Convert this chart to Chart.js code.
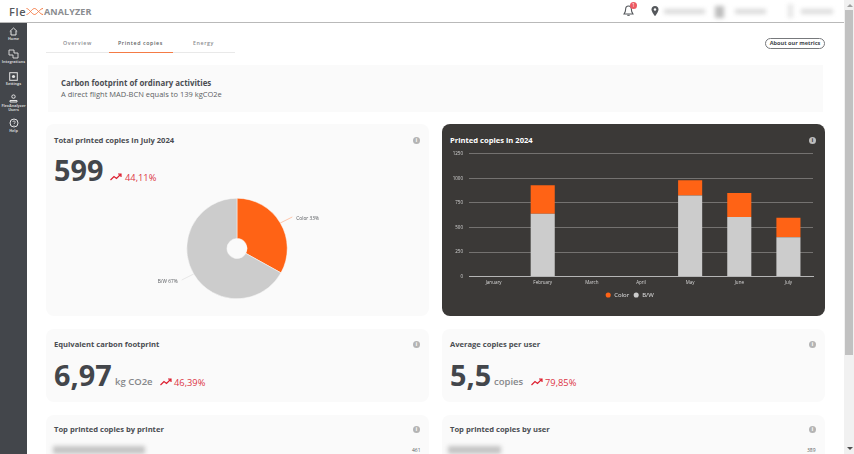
<!DOCTYPE html>
<html>
<head>
<meta charset="utf-8">
<title>FlexAnalyzer</title>
<script src="https://cdn.jsdelivr.net/npm/chart.js@4"></script>
<style>
html, body { margin: 0; padding: 0; width: 854px; height: 454px; overflow: hidden; background: #fff; font-family: "Open Sans", sans-serif; color: #43464b; }
.abs, .card, .t { position: absolute; }
.t { white-space: nowrap; line-height: 1; }
.card { background: #fafafa; border-radius: 8px; }
.title { font-weight: 700; font-size: 7.6px; color: #4a4d52; }
.big { font-weight: 700; font-size: 28.8px; color: #43464b; }
.unit { font-weight: 600; font-size: 9.5px; color: #85878a; }
.pct { font-size: 9.3px; color: #dc3545; }
.tab { font-size: 5.3px; font-weight: 600; letter-spacing: .6px; color: #8a8c8f; }
.info { position: absolute; width: 7px; height: 7px; border-radius: 50%; background: #b4b4b4; color: #fafafa; font-size: 6px; font-weight: 700; line-height: 7px; text-align: center; }
.blur { position: absolute; background: #b8b8b8; filter: blur(2px); }
.side { position: absolute; left: 0; width: 27px; text-align: center; color: #cfd0d2; font-size: 3.8px; font-weight: 700; line-height: 4.4px; }
.side svg { display: block; margin: 0 auto 1px; }
canvas { position: absolute; }
</style>
</head>
<body>

<!-- top bar -->
<div class="abs" style="left:0;top:0;width:844px;height:22px;background:#fff;border-bottom:1px solid #b9b9b9"></div>
<div class="t" style="left:9px;top:6px;font-size:11px;font-weight:600;color:#55585c;letter-spacing:.6px">Fle</div>
<svg class="abs" style="left:26px;top:8px" width="18" height="7" viewBox="0 0 18 7"><path d="M.5 .5C3 .5 6 6.5 8.5 6.5M8.5 .5C6 .5 3 6.5 .5 6.5M8.5 .5C11 .5 14 6.5 17 6.5M17 .5C14 .5 11 6.5 8.5 6.5" fill="none" stroke="#f47b45" stroke-width="1"/></svg>
<div class="t" style="left:44px;top:7px;font-size:9px;font-weight:700;color:#8a8c8f;letter-spacing:.1px">ANALYZER</div>
<svg class="abs" style="left:623px;top:5px" width="11" height="12" viewBox="0 0 11 12"><path d="M5.5 1C3.4 1 2.6 2.6 2.6 4.5C2.6 7 1.5 8 1 9H10C9.5 8 8.4 7 8.4 4.5C8.4 2.6 7.6 1 5.5 1Z" fill="none" stroke="#55585c" stroke-width="1.1"/><path d="M4.3 10.3H6.7" stroke="#55585c" stroke-width="1.1"/></svg>
<div class="abs" style="left:630px;top:2px;width:7px;height:7px;border-radius:50%;background:#ec5a63;color:#fff;font-size:5px;line-height:7px;text-align:center">1</div>
<svg class="abs" style="left:651px;top:6px" width="8" height="10" viewBox="0 0 8 10"><path d="M4 0C1.8 0 .5 1.6.5 3.4C.5 5.8 4 10 4 10S7.5 5.8 7.5 3.4C7.5 1.6 6.2 0 4 0Z" fill="#55585c"/><circle cx="4" cy="3.5" r="1.2" fill="#fff"/></svg>
<div class="blur" style="left:664px;top:9px;width:41px;height:5px;background:#dadada"></div>
<div class="blur" style="left:715px;top:6px;width:9px;height:12px;background:#bdbdbd"></div>
<div class="blur" style="left:735px;top:9px;width:31px;height:5px;background:#dadada"></div>
<div class="blur" style="left:788px;top:4px;width:5px;height:14px;background:#e6e6e6"></div>
<div class="blur" style="left:801px;top:9px;width:32px;height:5px;background:#dcdcdc"></div>

<!-- scrollbar -->
<div class="abs" style="left:844px;top:0;width:10px;height:454px;background:#f1f1f1"></div>
<div class="abs" style="left:845px;top:10px;width:8px;height:345px;background:#c1c1c1"></div>
<div class="abs" style="left:847px;top:4px;width:0;height:0;border:3px solid transparent;border-top:0;border-bottom:3px solid #a0a0a0"></div>
<div class="abs" style="left:847px;top:447px;width:0;height:0;border:3px solid transparent;border-bottom:0;border-top:3px solid #505050"></div>

<!-- sidebar -->
<div class="abs" style="left:0;top:23px;width:27px;height:431px;background:#43464b"></div>
<div class="side" style="top:27px"><svg width="9" height="9" viewBox="0 0 9 9"><path d="M.8 4.5L4.5 1L8.2 4.5M2 4V8H7V4" fill="none" stroke="#e4e4e4"/></svg>Home</div>
<div class="side" style="top:48px"><svg width="11" height="11" viewBox="0 0 11 11"><path d="M1 2H6V5H10V10H5V7H1Z" fill="none" stroke="#e4e4e4" stroke-width=".9"/></svg>Integrations</div>
<div class="side" style="top:72px"><svg width="9" height="9" viewBox="0 0 9 9"><rect x=".7" y=".7" width="7.6" height="7.6" fill="none" stroke="#e4e4e4"/><circle cx="4.5" cy="4.5" r="1.6" fill="#e4e4e4"/></svg>Settings</div>
<div class="side" style="top:94px"><svg width="9" height="9" viewBox="0 0 9 9"><circle cx="4.5" cy="2.6" r="1.7" fill="none" stroke="#e4e4e4"/><path d="M1 8V6.5H8V8Z" fill="none" stroke="#e4e4e4"/></svg>FlexAnalyzer<br>Users</div>
<div class="side" style="top:118px"><svg width="10" height="10" viewBox="0 0 10 10"><circle cx="5" cy="5" r="4" fill="none" stroke="#e4e4e4"/><path d="M3.7 4C3.8 2.6 6.3 2.6 6.3 4C6.3 5 5 5 5 6M5 7V7.8" fill="none" stroke="#e4e4e4" stroke-width=".8"/></svg>Help</div>

<!-- tabs -->
<div class="abs" style="left:46px;top:52px;width:189px;height:1px;background:#e9e9e9"></div>
<div class="abs" style="left:109px;top:52px;width:64px;height:1px;background:#f47b45"></div>
<div class="t tab" style="left:63px;top:40.5px">Overview</div>
<div class="t tab" style="left:118px;top:40.5px;color:#5c5f63">Printed copies</div>
<div class="t tab" style="left:193px;top:40.5px">Energy</div>
<div class="t" style="left:765px;top:38px;width:58px;height:9px;border:1px solid #77797c;border-radius:6px;font-size:5.6px;font-weight:700;line-height:9px;text-align:center;color:#43464b">About our metrics</div>

<!-- banner -->
<div class="abs" style="left:48px;top:65px;width:775px;height:47px;background:#fafafa"></div>
<div class="t" style="left:61px;top:79.5px;font-size:7.9px;font-weight:700;color:#4a4d52">Carbon footprint of ordinary activities</div>
<div class="t" style="left:61px;top:90.5px;font-size:7.5px;color:#5c5f63">A direct flight MAD-BCN equals to 139 kgCO2e</div>

<!-- total copies card -->
<div class="card" style="left:46px;top:124px;width:383px;height:192px"></div>
<div class="t title" style="left:54px;top:136.5px">Total printed copies in July 2024</div>
<div class="info" style="left:413px;top:137px">i</div>
<div class="t big" style="left:54px;top:156px">599</div>
<svg class="abs" style="left:110px;top:173px" width="12" height="8" viewBox="0 0 12 8"><path d="M.5 7L4 3.5L6.5 5.5L10.5 1.5M8 1H11V4" fill="none" stroke="#dc1f30" stroke-width="1.2"/></svg>
<div class="t pct" style="left:125px;top:173px">44,11%</div>
<canvas id="pieChart" width="240" height="101" style="left:117px;top:197.5px;width:240px;height:101px"></canvas>

<!-- bar card -->
<div class="card" style="left:442px;top:124px;width:383px;height:192px;background:#3b3937"></div>
<div class="t title" style="left:450px;top:136.5px;color:#fff">Printed copies in 2024</div>
<div class="info" style="left:809px;top:137px;background:#bdbdbd;color:#3b3937">i</div>
<canvas id="barChart" width="375" height="163" style="left:446px;top:145px;width:375px;height:163px"></canvas>

<!-- carbon card -->
<div class="card" style="left:46px;top:329px;width:383px;height:73px"></div>
<div class="t title" style="left:54px;top:340.5px">Equivalent carbon footprint</div>
<div class="info" style="left:413px;top:341px">i</div>
<div class="t big" style="left:54px;top:361px">6,97</div>
<div class="t unit" style="left:115px;top:377px">kg CO2e</div>
<svg class="abs" style="left:160px;top:378px" width="12" height="8" viewBox="0 0 12 8"><path d="M.5 7L4 3.5L6.5 5.5L10.5 1.5M8 1H11V4" fill="none" stroke="#dc1f30" stroke-width="1.2"/></svg>
<div class="t pct" style="left:174px;top:377.5px">46,39%</div>

<!-- average card -->
<div class="card" style="left:442px;top:329px;width:383px;height:73px"></div>
<div class="t title" style="left:450px;top:340.5px">Average copies per user</div>
<div class="info" style="left:809px;top:341px">i</div>
<div class="t big" style="left:450px;top:361px">5,5</div>
<div class="t unit" style="left:494px;top:377px">copies</div>
<svg class="abs" style="left:531px;top:378px" width="12" height="8" viewBox="0 0 12 8"><path d="M.5 7L4 3.5L6.5 5.5L10.5 1.5M8 1H11V4" fill="none" stroke="#dc1f30" stroke-width="1.2"/></svg>
<div class="t pct" style="left:545px;top:377.5px">79,85%</div>

<!-- top lists, cut off by the window -->
<div class="card" style="left:46px;top:415px;width:383px;height:60px"></div>
<div class="t title" style="left:54px;top:426px">Top printed copies by printer</div>
<div class="info" style="left:413px;top:426px">i</div>
<div class="blur" style="left:53px;top:446px;width:92px;height:8px;background:#c4c4c4"></div>
<div class="t" style="left:412px;top:448px;font-size:5px;color:#5c5f63">461</div>
<div class="card" style="left:442px;top:415px;width:383px;height:60px"></div>
<div class="t title" style="left:450px;top:426px">Top printed copies by user</div>
<div class="info" style="left:809px;top:426px">i</div>
<div class="blur" style="left:448px;top:446px;width:53px;height:8px;background:#c4c4c4"></div>
<div class="t" style="left:807px;top:448px;font-size:5px;color:#5c5f63">389</div>

<script>
const months = ['January', 'February', 'March', 'April', 'May', 'June', 'July'];
const colorCopies = [0, 290, 0, 0, 155, 245, 199];
const bwCopies = [0, 640, 0, 0, 826, 605, 400];
const yTicks = [0, 250, 500, 750, 1000, 1250];

const pieLabels = ['Color', 'B/W'];
const pieValues = [198, 401];

const ORANGE = '#ff6315';
const GREY = '#cccccc';
const LEADER = ['#ffb08a', '#dedede'];

// leader lines with the "Color 33%" style labels next to the pie
const pieLabelsPlugin = {
    id: 'pieLabels',
    afterDraw(chart) {
        const ctx = chart.ctx;
        const total = pieValues.reduce((a, b) => a + b, 0);
        chart.getDatasetMeta(0).data.forEach((arc, i) => {
            const mid = (arc.startAngle + arc.endAngle) / 2;
            const x = arc.x + arc.outerRadius * Math.cos(mid);
            const y = arc.y + arc.outerRadius * Math.sin(mid);
            const dir = Math.cos(mid) >= 0 ? 1 : -1;
            const ex = x + dir * 12;
            const ey = y + (Math.sin(mid) >= 0 ? 6 : -6);
            ctx.save();
            ctx.strokeStyle = LEADER[i];
            ctx.lineWidth = 0.7;
            ctx.beginPath();
            ctx.moveTo(x, y);
            ctx.lineTo(ex, ey);
            ctx.stroke();
            ctx.fillStyle = '#55585c';
            ctx.font = '4.8px "Open Sans"';
            ctx.textAlign = dir > 0 ? 'left' : 'right';
            ctx.textBaseline = 'middle';
            const pct = Math.round(pieValues[i] / total * 100);
            ctx.fillText(pieLabels[i] + ' ' + pct + '%', ex + dir * 4, ey + 2);
            ctx.restore();
        });
    }
};

new Chart(document.getElementById('pieChart'), {
    type: 'doughnut',
    data: {
        labels: pieLabels,
        datasets: [{
            data: pieValues,
            backgroundColor: [ORANGE, GREY],
            borderColor: '#fafafa',
            borderWidth: 0.5
        }]
    },
    options: {
        responsive: false,
        animation: false,
        cutout: '20%',
        plugins: { legend: { display: false }, tooltip: { enabled: false } }
    },
    plugins: [pieLabelsPlugin]
});

new Chart(document.getElementById('barChart'), {
    type: 'bar',
    data: {
        labels: months,
        datasets: [
            { label: 'B/W', data: bwCopies, backgroundColor: GREY },
            { label: 'Color', data: colorCopies, backgroundColor: ORANGE }
        ]
    },
    options: {
        responsive: false,
        animation: false,
        barPercentage: 0.7,
        categoryPercentage: 0.7,
        layout: { padding: { top: 1, right: 8, bottom: 0, left: 0 } },
        scales: {
            x: {
                stacked: true,
                grid: { display: false, drawTicks: false },
                border: { color: '#b5b5b5' },
                ticks: { color: '#d8d8d8', font: { family: 'Open Sans', size: 4.5 }, padding: 3, maxRotation: 0 }
            },
            y: {
                stacked: true,
                min: yTicks[0],
                max: yTicks[yTicks.length - 1],
                afterBuildTicks(axis) { axis.ticks = yTicks.map(v => ({ value: v })); },
                afterFit(axis) { axis.width = 23; },
                grid: { color: '#747270', drawTicks: false },
                border: { display: false },
                ticks: {
                    color: '#d8d8d8',
                    font: { family: 'Open Sans', size: 4.5 },
                    padding: 6,
                    callback: v => String(v)
                }
            }
        },
        plugins: {
            tooltip: { enabled: false },
            legend: {
                position: 'bottom',
                reverse: true,
                labels: {
                    color: '#e0e0e0',
                    font: { family: 'Open Sans', size: 6 },
                    usePointStyle: true,
                    pointStyle: 'circle',
                    boxWidth: 6,
                    boxHeight: 3.6,
                    padding: 4
                }
            }
        }
    }
});
</script>
</body>
</html>
